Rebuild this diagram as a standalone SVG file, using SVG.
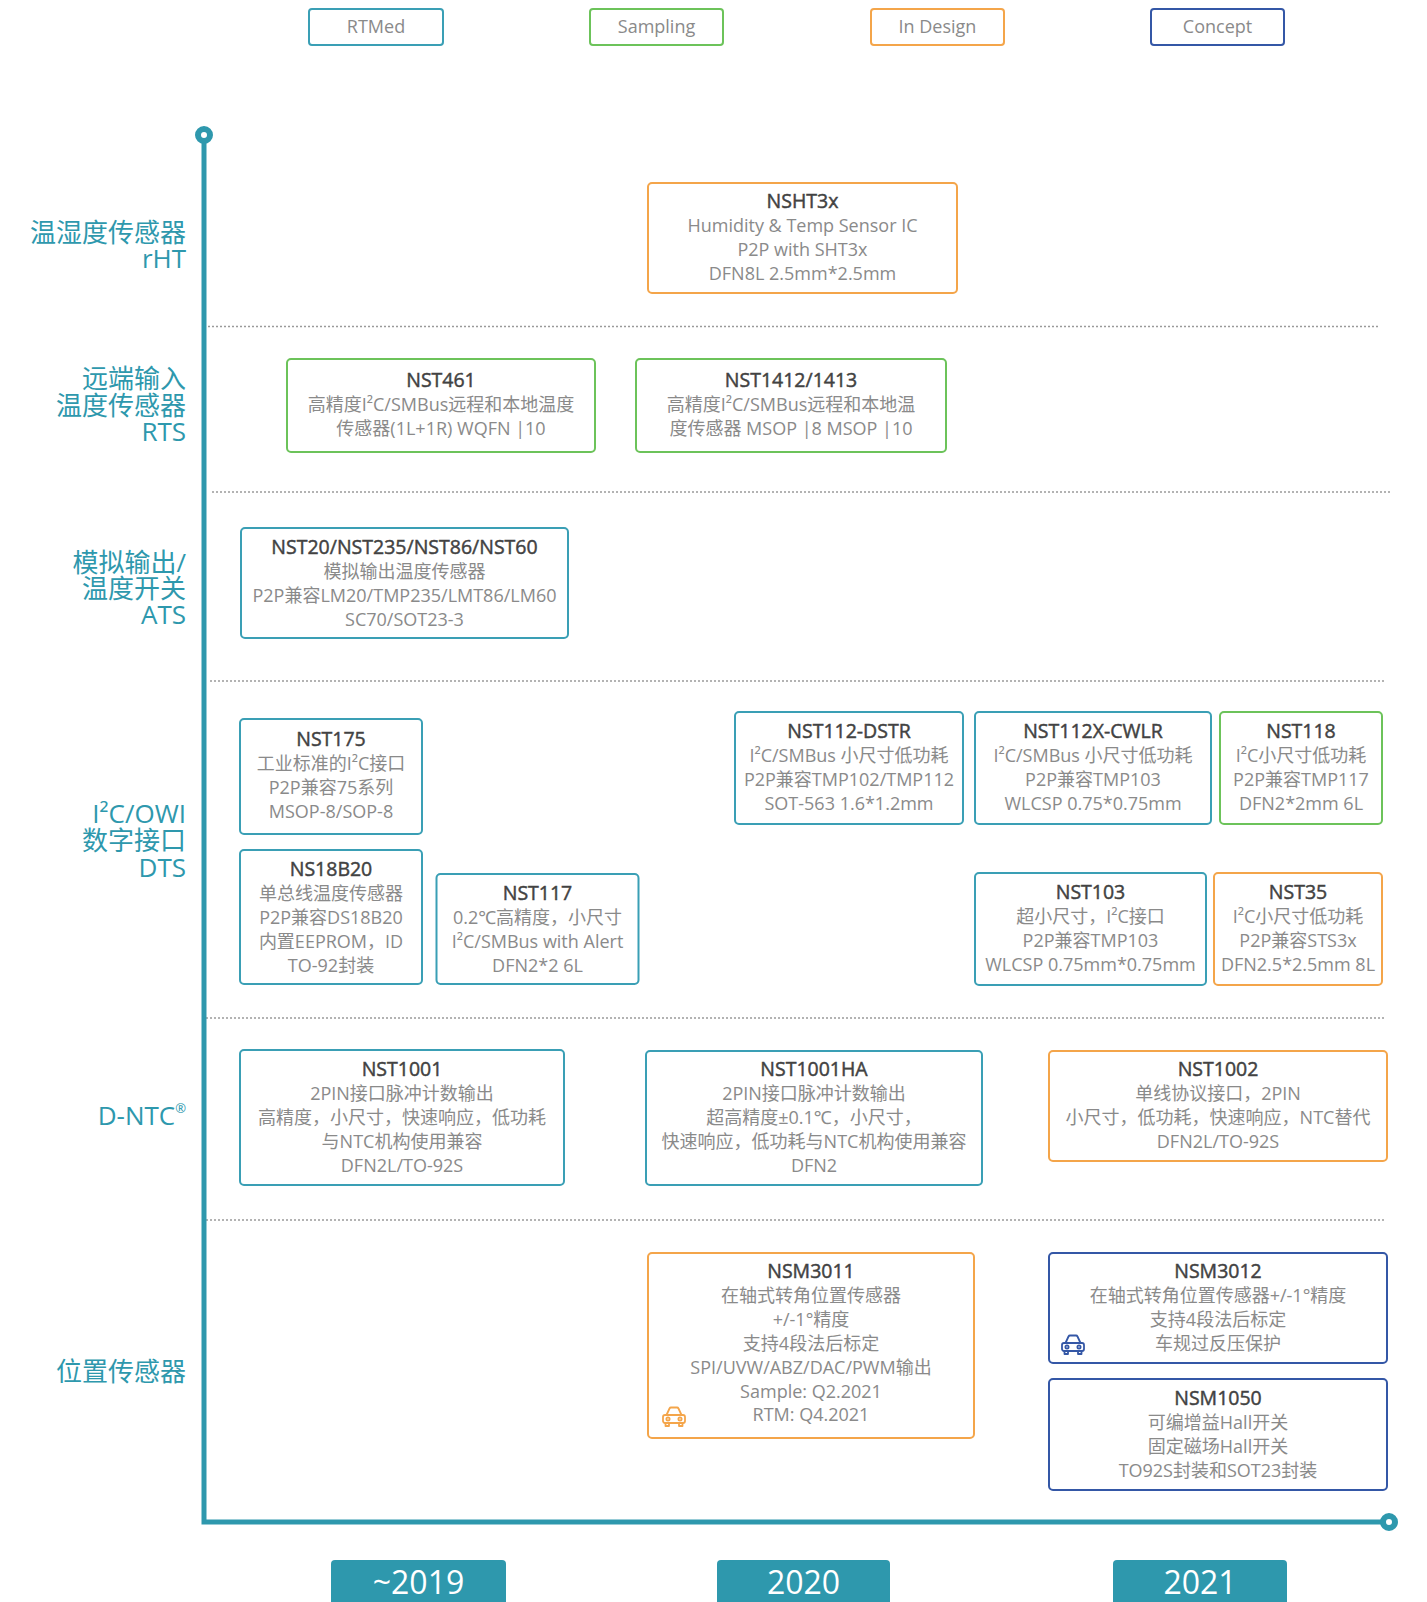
<svg xmlns="http://www.w3.org/2000/svg" width="1427" height="1602" viewBox="0 0 1427 1602">
<style>
text{font-family:"Open Sans","Noto Sans","Noto Sans CJK SC",sans-serif}
.bg{fill:#ffffff}
.box{fill:#ffffff;stroke-width:2}
.teal{stroke:#3A9FB5}
.green{stroke:#6CC35A}
.orange{stroke:#F4A54A}
.blue{stroke:#3457A6}
.t{font-size:19.5px;font-weight:400;fill:#424242;stroke:#424242;stroke-width:0.45px;text-anchor:middle}
.b{font-size:18px;fill:#8a8a8a;text-anchor:middle}
.leg{font-size:18px;fill:#8a8a8a;text-anchor:middle}
.lab{font-size:26px;fill:#2E98AD;text-anchor:end}
.yr{font-size:32px;fill:#ffffff;text-anchor:middle}
.dash{stroke:#9a9a9a;stroke-width:1.5;stroke-dasharray:2 2;fill:none}
.axis{stroke:#2E98AD;stroke-width:5;fill:none}
.cap{stroke:#2E98AD;stroke-width:6;fill:#ffffff}
.yb{fill:#2E98AD}
.car{fill:none;stroke-width:1.8;stroke-linejoin:round}
</style>
<defs>
<symbol id="car" viewBox="0 0 26 21">
<path d="M5.5 9 L8.5 2.5 Q9 1.5 10 1.5 H16 Q17 1.5 17.5 2.5 L20.5 9" />
<rect x="2" y="9" width="22" height="8" rx="2" />
<path d="M4.5 17 V20 H8 V17 M18 17 V20 H21.5 V17" />
<circle cx="7" cy="13" r="1.6" />
<circle cx="19" cy="13" r="1.6" />
</symbol>
</defs>
<rect class="bg" x="0" y="0" width="1427" height="1602"/>

<g id="legend">
<g id="legend-rtmed"><rect class="box teal" x="309" y="9" width="134" height="36" rx="3"/><text class="leg" x="376" y="33">RTMed</text></g>
<g id="legend-sampling"><rect class="box green" x="590" y="9" width="133" height="36" rx="3"/><text class="leg" x="656.5" y="33">Sampling</text></g>
<g id="legend-indesign"><rect class="box orange" x="871" y="9" width="133" height="36" rx="3"/><text class="leg" x="937.5" y="33">In Design</text></g>
<g id="legend-concept"><rect class="box blue" x="1151" y="9" width="133" height="36" rx="3"/><text class="leg" x="1217.5" y="33">Concept</text></g>
</g>

<g id="connectors">
<line class="dash" x1="204" y1="326.5" x2="1380" y2="326.5"/>
<line class="dash" x1="212" y1="492" x2="1392" y2="492"/>
<line class="dash" x1="210" y1="681" x2="1385" y2="681"/>
<line class="dash" x1="206" y1="1018" x2="1386" y2="1018"/>
<line class="dash" x1="206" y1="1220" x2="1386" y2="1220"/>
<polyline class="axis" points="204,140 204,1522 1382,1522" stroke-linejoin="miter"/>
<circle class="cap" cx="204" cy="135" r="6"/>
<circle class="cap" cx="1389" cy="1522" r="6"/>
</g>

<g id="labels">
<g id="label-rht"><text class="lab" x="186" y="242">温湿度传感器</text><text class="lab" x="186" y="268">rHT</text></g>
<g id="label-rts"><text class="lab" x="186" y="388">远端输入</text><text class="lab" x="186" y="415">温度传感器</text><text class="lab" x="186" y="441">RTS</text></g>
<g id="label-ats"><text class="lab" x="186" y="572">模拟输出/</text><text class="lab" x="186" y="598">温度开关</text><text class="lab" x="186" y="624">ATS</text></g>
<g id="label-dts"><text class="lab" x="186" y="823">I²C/OWI</text><text class="lab" x="186" y="850">数字接口</text><text class="lab" x="186" y="877">DTS</text></g>
<g id="label-dntc"><text class="lab" x="186" y="1125">D-NTC<tspan font-size="13" dy="-12">®</tspan></text></g>
<g id="label-pos"><text class="lab" x="186" y="1381">位置传感器</text></g>
</g>

<g id="NSHT3x"><rect class="box orange" x="648" y="183" width="309" height="110" rx="4"/>
<text class="t" x="802.5" y="208">NSHT3x</text>
<text class="b" x="802.5" y="232">Humidity &amp; Temp Sensor IC</text>
<text class="b" x="802.5" y="256">P2P with SHT3x</text>
<text class="b" x="802.5" y="280">DFN8L 2.5mm*2.5mm</text></g>

<g id="NST461"><rect class="box green" x="287" y="359" width="308" height="93" rx="4"/>
<text class="t" x="441" y="387">NST461</text>
<text class="b" x="441" y="411">高精度I²C/SMBus远程和本地温度</text>
<text class="b" x="441" y="435">传感器(1L+1R) WQFN |10</text></g>

<g id="NST1412"><rect class="box green" x="636" y="359" width="310" height="93" rx="4"/>
<text class="t" x="791" y="387">NST1412/1413</text>
<text class="b" x="791" y="411">高精度I²C/SMBus远程和本地温</text>
<text class="b" x="791" y="435">度传感器 MSOP |8 MSOP |10</text></g>

<g id="NST20"><rect class="box teal" x="241" y="528" width="327" height="110" rx="4"/>
<text class="t" x="404.5" y="554">NST20/NST235/NST86/NST60</text>
<text class="b" x="404.5" y="578">模拟输出温度传感器</text>
<text class="b" x="404.5" y="602">P2P兼容LM20/TMP235/LMT86/LM60</text>
<text class="b" x="404.5" y="626">SC70/SOT23-3</text></g>

<g id="NST175"><rect class="box teal" x="240" y="719" width="182" height="115" rx="4"/>
<text class="t" x="331" y="746">NST175</text>
<text class="b" x="331" y="770">工业标准的I²C接口</text>
<text class="b" x="331" y="794">P2P兼容75系列</text>
<text class="b" x="331" y="818">MSOP-8/SOP-8</text></g>

<g id="NS18B20"><rect class="box teal" x="240" y="850" width="182" height="134" rx="4"/>
<text class="t" x="331" y="876">NS18B20</text>
<text class="b" x="331" y="900">单总线温度传感器</text>
<text class="b" x="331" y="924">P2P兼容DS18B20</text>
<text class="b" x="331" y="948">内置EEPROM，ID</text>
<text class="b" x="331" y="972">TO-92封装</text></g>

<g id="NST117"><rect class="box teal" x="436.5" y="874" width="202" height="110" rx="4"/>
<text class="t" x="537.5" y="900">NST117</text>
<text class="b" x="537.5" y="924">0.2℃高精度，小尺寸</text>
<text class="b" x="537.5" y="948">I²C/SMBus with Alert</text>
<text class="b" x="537.5" y="972">DFN2*2 6L</text></g>

<g id="NST112-DSTR"><rect class="box teal" x="735" y="712" width="228" height="112" rx="4"/>
<text class="t" x="849" y="738">NST112-DSTR</text>
<text class="b" x="849" y="762">I²C/SMBus 小尺寸低功耗</text>
<text class="b" x="849" y="786">P2P兼容TMP102/TMP112</text>
<text class="b" x="849" y="810">SOT-563 1.6*1.2mm</text></g>

<g id="NST112X-CWLR"><rect class="box teal" x="975" y="712" width="236" height="112" rx="4"/>
<text class="t" x="1093" y="738">NST112X-CWLR</text>
<text class="b" x="1093" y="762">I²C/SMBus 小尺寸低功耗</text>
<text class="b" x="1093" y="786">P2P兼容TMP103</text>
<text class="b" x="1093" y="810">WLCSP 0.75*0.75mm</text></g>

<g id="NST118"><rect class="box green" x="1220" y="712" width="162" height="112" rx="4"/>
<text class="t" x="1301" y="738">NST118</text>
<text class="b" x="1301" y="762">I²C小尺寸低功耗</text>
<text class="b" x="1301" y="786">P2P兼容TMP117</text>
<text class="b" x="1301" y="810">DFN2*2mm 6L</text></g>

<g id="NST103"><rect class="box teal" x="975" y="873" width="231" height="112" rx="4"/>
<text class="t" x="1090.5" y="899">NST103</text>
<text class="b" x="1090.5" y="923">超小尺寸，I²C接口</text>
<text class="b" x="1090.5" y="947">P2P兼容TMP103</text>
<text class="b" x="1090.5" y="971">WLCSP 0.75mm*0.75mm</text></g>

<g id="NST35"><rect class="box orange" x="1214" y="873" width="168" height="112" rx="4"/>
<text class="t" x="1298" y="899">NST35</text>
<text class="b" x="1298" y="923">I²C小尺寸低功耗</text>
<text class="b" x="1298" y="947">P2P兼容STS3x</text>
<text class="b" x="1298" y="971">DFN2.5*2.5mm 8L</text></g>

<g id="NST1001"><rect class="box teal" x="240" y="1050" width="324" height="135" rx="4"/>
<text class="t" x="402" y="1076">NST1001</text>
<text class="b" x="402" y="1100">2PIN接口脉冲计数输出</text>
<text class="b" x="402" y="1124">高精度，小尺寸，快速响应，低功耗</text>
<text class="b" x="402" y="1148">与NTC机构使用兼容</text>
<text class="b" x="402" y="1172">DFN2L/TO-92S</text></g>

<g id="NST1001HA"><rect class="box teal" x="646" y="1051" width="336" height="134" rx="4"/>
<text class="t" x="814" y="1076">NST1001HA</text>
<text class="b" x="814" y="1100">2PIN接口脉冲计数输出</text>
<text class="b" x="814" y="1124">超高精度±0.1℃，小尺寸，</text>
<text class="b" x="814" y="1148">快速响应，低功耗与NTC机构使用兼容</text>
<text class="b" x="814" y="1172">DFN2</text></g>

<g id="NST1002"><rect class="box orange" x="1049" y="1051" width="338" height="110" rx="4"/>
<text class="t" x="1218" y="1076">NST1002</text>
<text class="b" x="1218" y="1100">单线协议接口，2PIN</text>
<text class="b" x="1218" y="1124">小尺寸，低功耗，快速响应，NTC替代</text>
<text class="b" x="1218" y="1148">DFN2L/TO-92S</text></g>

<g id="NSM3011"><rect class="box orange" x="648" y="1253" width="326" height="185" rx="4"/>
<text class="t" x="811" y="1278">NSM3011</text>
<text class="b" x="811" y="1302">在轴式转角位置传感器</text>
<text class="b" x="811" y="1326">+/-1°精度</text>
<text class="b" x="811" y="1350">支持4段法后标定</text>
<text class="b" x="811" y="1374">SPI/UVW/ABZ/DAC/PWM输出</text>
<text class="b" x="811" y="1398">Sample: Q2.2021</text>
<text class="b" x="811" y="1421">RTM: Q4.2021</text>
<use href="#car" x="661" y="1406" width="26" height="21" class="car" stroke="#F4A54A"/></g>

<g id="NSM3012"><rect class="box blue" x="1049" y="1253" width="338" height="110" rx="4"/>
<text class="t" x="1218" y="1278">NSM3012</text>
<text class="b" x="1218" y="1302">在轴式转角位置传感器+/-1°精度</text>
<text class="b" x="1218" y="1326">支持4段法后标定</text>
<text class="b" x="1218" y="1350">车规过反压保护</text>
<use href="#car" x="1060" y="1334" width="26" height="21" class="car" stroke="#3457A6"/></g>

<g id="NSM1050"><rect class="box blue" x="1049" y="1379" width="338" height="111" rx="4"/>
<text class="t" x="1218" y="1405">NSM1050</text>
<text class="b" x="1218" y="1429">可编增益Hall开关</text>
<text class="b" x="1218" y="1453">固定磁场Hall开关</text>
<text class="b" x="1218" y="1477">TO92S封装和SOT23封装</text></g>

<g id="years">
<g id="year-2019"><rect class="yb" x="331" y="1560" width="175" height="50" rx="4"/><text class="yr" x="418.5" y="1594">~2019</text></g>
<g id="year-2020"><rect class="yb" x="717" y="1560" width="173" height="50" rx="4"/><text class="yr" x="803.5" y="1594">2020</text></g>
<g id="year-2021"><rect class="yb" x="1113" y="1560" width="174" height="50" rx="4"/><text class="yr" x="1200" y="1594">2021</text></g>
</g>
</svg>
